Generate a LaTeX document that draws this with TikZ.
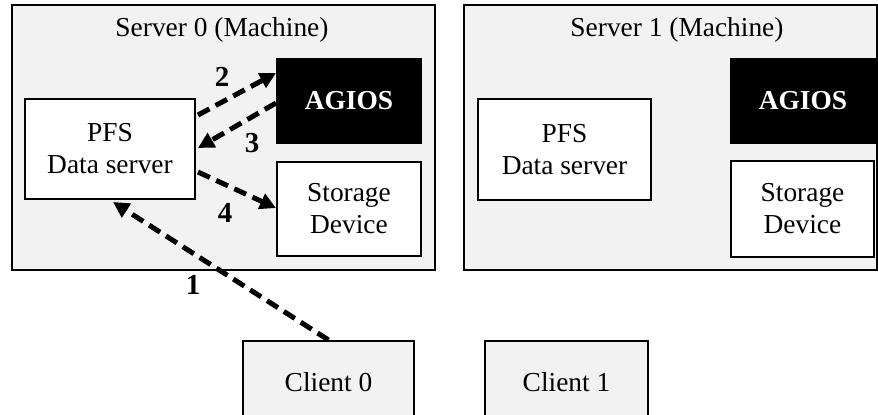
\documentclass[tikz,border=0pt]{standalone}
\usepackage{fontspec}
\setmainfont{Liberation Serif}
\usepackage{xcolor}
\usetikzlibrary{arrows.meta,calc}
\definecolor{boxgray}{RGB}{242,242,242}

\begin{document}
\begin{tikzpicture}[x=0.5pt,y=-0.5pt,
    every node/.style={font=\fontsize{13.7}{16}\selectfont},
    machine/.style={draw, line width=1pt, fill=boxgray, inner sep=0pt},
    part/.style={draw, line width=1pt, fill=white, align=center, inner sep=0pt},
    sched/.style={draw, line width=1pt, fill=black, text=white, inner sep=0pt,
        font=\fontsize{13.7}{16}\selectfont\bfseries},
    flow/.style={-{Triangle[length=8pt,width=8pt]}, line width=2.5pt,
        dash pattern=on 6.5pt off 3.5pt},
    numlbl/.style={font=\fontsize{14.5}{17}\selectfont\bfseries}]
        % Two servers, each with a data server, AGIOS and a storage device
        \path[use as bounding box, clip] (0,0) rectangle (878,414);

        \node[machine, minimum width=211.5pt, minimum height=132.5pt] (server0) at (223.5,137.5) {};
        \node[machine, minimum width=206.5pt, minimum height=132.5pt] (server1) at (670.5,137.5) {};
        \node (title0) at (222,30) {Server 0 (Machine)};
        \node (title1) at (677,30) {Server 1 (Machine)};

        \node[part, minimum width=85pt, minimum height=50pt] (pfs0) at (110,149) {PFS\\Data server};
        \node[sched, minimum width=72pt, minimum height=42pt] (agios0) at (349,101) {AGIOS};
        \node[part, minimum width=72pt, minimum height=47pt] (storage0) at (349,209) {Storage\\Device};

        \node[part, minimum width=86.5pt, minimum height=50.5pt] (pfs1) at (564.5,149.5) {PFS\\Data server};
        \node[sched, minimum width=72pt, minimum height=42pt] (agios1) at (803,101) {AGIOS};
        \node[part, minimum width=71.5pt, minimum height=48pt] (storage1) at (802.5,209) {Storage\\Device};

        \node[machine, minimum width=85.5pt, minimum height=41pt] (client0) at (328.5,382) {Client 0};
        \node[machine, minimum width=81.5pt, minimum height=41pt] (client1) at (566.5,382) {Client 1};

        % request path
        \draw[flow] (client0.north) -- ($(pfs0.south)+(3,2)$);
        \draw[flow] ($(pfs0.east)+(2,-34)$) -- ($(agios0.west)+(0,-28)$);
        \draw[flow] ($(agios0.west)+(0,2)$) -- ($(pfs0.east)+(2,-1)$);
        \draw[flow] ($(pfs0.east)+(2,23)$) -- ($(storage0.west)+(0,-1)$);

        \node[numlbl] (n1) at (193,285) {1};
        \node[numlbl] (n2) at (222,77) {2};
        \node[numlbl] (n3) at (252,143) {3};
        \node[numlbl] (n4) at (225,213) {4};
    \end{tikzpicture}
\end{document}
